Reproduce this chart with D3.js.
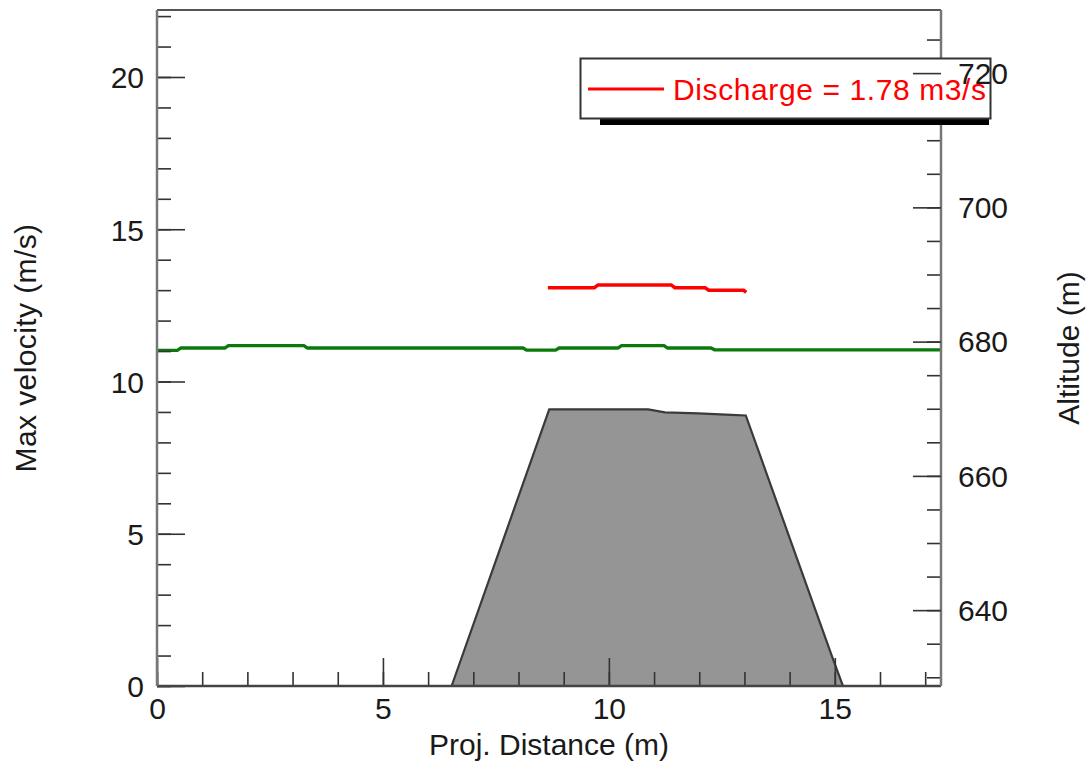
<!DOCTYPE html>
<html>
<head>
<meta charset="utf-8">
<script src="https://cdn.jsdelivr.net/npm/d3@7"></script>
<style>
  html, body { margin: 0; padding: 0; background: #fff; }
  svg { display: block; }
  text { font-family: "Liberation Sans", Arial, Helvetica, sans-serif; }
</style>
</head>
<body>
<svg id="chart" width="1090" height="765"></svg>
<script>
// ---- data ----
const xTickValues = [0, 5, 10, 15];
const leftTickValues = [0, 5, 10, 15, 20];
const rightTickValues = [640, 660, 680, 700, 720];

// Max velocity (green), left axis
const distGreen = [0, 0.45, 0.53, 1.5, 1.58, 3.25, 3.33, 8.1, 8.18, 8.82, 8.9, 10.2, 10.28, 11.22, 11.3, 12.26, 12.34, 17.35];
const velGreen  = [11.02, 11.02, 11.1, 11.1, 11.18, 11.18, 11.1, 11.1, 11.03, 11.03, 11.1, 11.1, 11.18, 11.18, 11.1, 11.1, 11.04, 11.04];

// Discharge series (red), left axis
const distRed = [8.65, 9.68, 9.76, 11.38, 11.46, 12.13, 12.21, 12.98, 13.04];
const velRed  = [13.08, 13.08, 13.17, 13.17, 13.08, 13.08, 13.0, 13.0, 12.93];

// Altitude profile (grey), right axis
const distAlt = [0, 6.52, 8.68, 10.87, 11.24, 11.98, 12.71, 13.03, 14.96, 15.18, 17.35];
const altitude = [628.7, 628.7, 669.9, 669.9, 669.45, 669.3, 669.1, 669.0, 632.7, 628.7, 628.7];

const legendLabel = "Discharge = 1.78 m3/s";

// ---- layout ----
const L = 157, R = 941, T = 10, B = 686;
const FS = 30;
const TXT = "#1a1a1a";

const svg = d3.select("#chart");
const x = d3.scaleLinear().domain([0, 17.35]).range([L, R]);
const yL = d3.scaleLinear().domain([0, 22.2]).range([B, T]);
const yR = d3.scaleLinear().domain([628.7, 729.4]).range([B, T]);

// altitude area
const altData = distAlt.map((d, i) => ({x: d, y: altitude[i]}));
svg.append("path")
  .datum(altData)
  .attr("d", d3.area().x(d => x(d.x)).y0(B).y1(d => yR(d.y)))
  .attr("fill", "#959595");
svg.append("path")
  .datum(altData)
  .attr("d", d3.line().x(d => x(d.x)).y(d => yR(d.y)))
  .attr("fill", "none").attr("stroke", "#3a3a3a").attr("stroke-width", 2.2);

// lines
const greenData = distGreen.map((d, i) => ({x: d, y: velGreen[i]}));
const redData = distRed.map((d, i) => ({x: d, y: velRed[i]}));
const lineL = d3.line().x(d => x(d.x)).y(d => yL(d.y));
svg.append("path").datum(greenData).attr("d", lineL)
  .attr("fill", "none").attr("stroke", "#0b7a0b").attr("stroke-width", 3.3);
svg.append("path").datum(redData).attr("d", lineL)
  .attr("fill", "none").attr("stroke", "#ff0000").attr("stroke-width", 3.5);

// axes helpers
function styleAxis(g) {
  g.select(".domain").remove();
  g.selectAll(".tick line").attr("stroke", "#333").attr("stroke-width", 1.6);
  g.selectAll("text").attr("font-size", FS).attr("fill", TXT)
    .attr("font-family", "'Liberation Sans', Arial, Helvetica, sans-serif");
}

// bottom axis
const xMinor = d3.range(0, 18, 1);
svg.append("g").attr("transform", `translate(0,${B})`)
  .call(d3.axisBottom(x).tickValues(xMinor).tickSize(-14).tickFormat(""))
  .call(styleAxis);
svg.append("g").attr("transform", `translate(0,${B})`)
  .call(d3.axisBottom(x).tickValues(xTickValues).tickSize(-28).tickPadding(12).tickFormat(d3.format("d")))
  .call(styleAxis);

// left axis
const lMinor = d3.range(0, 23, 1);
svg.append("g").attr("transform", `translate(${L},0)`)
  .call(d3.axisLeft(yL).tickValues(lMinor).tickSize(-14).tickFormat(""))
  .call(styleAxis);
svg.append("g").attr("transform", `translate(${L},0)`)
  .call(d3.axisLeft(yL).tickValues(leftTickValues).tickSize(-28).tickPadding(13).tickFormat(d3.format("d")))
  .call(styleAxis)
  .call(g => g.selectAll("text").attr("dy", "0.36em"));

// right axis ticks (labels drawn later, over the legend)
const rMinor = d3.range(630, 730, 5);
svg.append("g").attr("transform", `translate(${R},0)`)
  .call(d3.axisRight(yR).tickValues(rMinor).tickSize(-14).tickFormat(""))
  .call(styleAxis);
const rightAxisG = svg.append("g").attr("transform", `translate(${R},0)`);
rightAxisG.call(d3.axisRight(yR).tickValues(rightTickValues).tickSize(-28).tickPadding(17).tickFormat(d3.format("d")))
  .call(styleAxis)
  .call(g => g.selectAll("text").attr("dy", "0.34em"));

// frame
svg.append("line").attr("x1", L).attr("x2", R).attr("y1", T).attr("y2", T).attr("stroke", "#555").attr("stroke-width", 2);
svg.append("line").attr("x1", L).attr("x2", R).attr("y1", B).attr("y2", B).attr("stroke", "#444").attr("stroke-width", 2.5);
svg.append("line").attr("x1", L).attr("x2", L).attr("y1", T).attr("y2", B).attr("stroke", "#777").attr("stroke-width", 2.5);
svg.append("line").attr("x1", R).attr("x2", R).attr("y1", T).attr("y2", B).attr("stroke", "#777").attr("stroke-width", 2.5);

// axis titles
svg.append("text").attr("x", 549).attr("y", 755).attr("text-anchor", "middle")
  .attr("font-size", FS).attr("fill", TXT).text("Proj. Distance (m)");
svg.append("text").attr("transform", "translate(36,348) rotate(-90)").attr("text-anchor", "middle")
  .attr("font-size", FS).attr("letter-spacing", 0.4).attr("fill", TXT).text("Max velocity (m/s)");
svg.append("text").attr("transform", "translate(1079,348) rotate(-90)").attr("text-anchor", "middle")
  .attr("font-size", FS).attr("fill", TXT).text("Altitude (m)");

// legend
const lg = svg.append("g");
lg.append("rect").attr("x", 600).attr("y", 117).attr("width", 389).attr("height", 8).attr("fill", "#000");
lg.append("rect").attr("x", 580.5).attr("y", 58.5).attr("width", 410).attr("height", 60)
  .attr("fill", "#fff").attr("stroke", "#333").attr("stroke-width", 2);
lg.append("line").attr("x1", 588).attr("x2", 664).attr("y1", 89).attr("y2", 89)
  .attr("stroke", "#ff0000").attr("stroke-width", 3);
lg.append("text").attr("x", 673).attr("y", 100).attr("font-size", FS).attr("letter-spacing", 0.6)
  .attr("fill", "#ff0000").text(legendLabel);

// bring right axis labels above legend
rightAxisG.raise();
</script>
</body>
</html>
